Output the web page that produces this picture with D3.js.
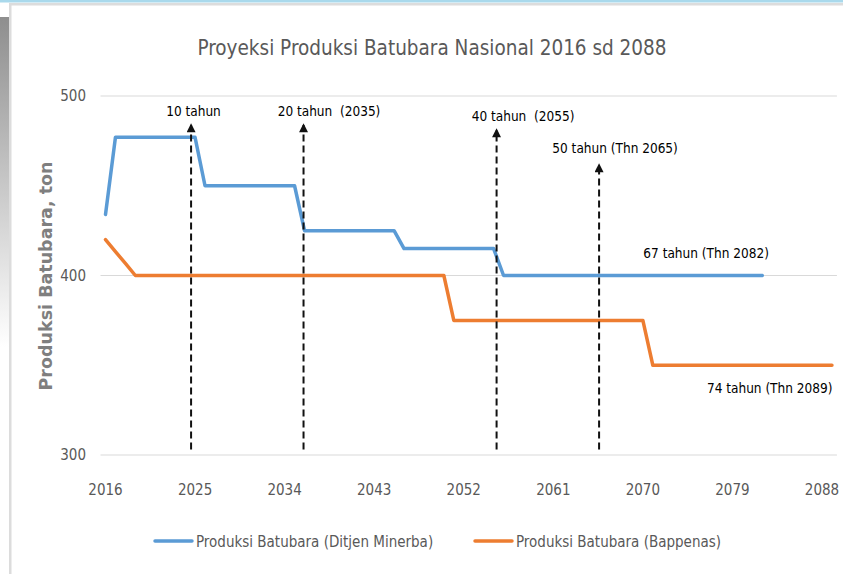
<!DOCTYPE html>
<html>
<head>
<meta charset="utf-8">
<script src="https://d3js.org/d3.v7.min.js"></script>
<style>
  body { margin: 0; background: #fff; }
  text { font-family: "DejaVu Sans Condensed", "DejaVu Sans", sans-serif; }
</style>
</head>
<body>
<div id="chart"></div>
<script>
// years 2016..2089
var years = d3.range(2016, 2090);

// Produksi Batubara (Ditjen Minerba), ends 2082
var minerba = [434, 477, 477, 477, 477, 477, 477, 477, 477, 477,
  450, 450, 450, 450, 450, 450, 450, 450, 450, 450,
  425, 425, 425, 425, 425, 425, 425, 425, 425, 425,
  415, 415, 415, 415, 415, 415, 415, 415, 415, 415,
  400, 400, 400, 400, 400, 400, 400, 400, 400, 400,
  400, 400, 400, 400, 400, 400, 400, 400, 400, 400,
  400, 400, 400, 400, 400, 400, 400];

// Produksi Batubara (Bappenas), ends 2089
var bappenas = [420, 413.3, 406.7, 400, 400, 400, 400, 400, 400, 400,
  400, 400, 400, 400, 400, 400, 400, 400, 400, 400,
  400, 400, 400, 400, 400, 400, 400, 400, 400, 400,
  400, 400, 400, 400, 400, 375, 375, 375, 375, 375,
  375, 375, 375, 375, 375, 375, 375, 375, 375, 375,
  375, 375, 375, 375, 375, 350, 350, 350, 350, 350,
  350, 350, 350, 350, 350, 350, 350, 350, 350, 350,
  350, 350, 350, 350];

var xTicks = [2016, 2025, 2034, 2043, 2052, 2061, 2070, 2079, 2088];
var yTicks = [300, 400, 500];

// dashed arrows: year, tip value, base value
var arrowYears = [2024.6, 2035.9, 2055.3, 2065.6];
var arrowTips = [483.8, 483.8, 481, 461.6];
var arrowBase = 303;

// annotation labels: text, year of anchor, value (baseline)
var noteTexts = ["10 tahun", "20 tahun  (2035)", "40 tahun  (2055)", "50 tahun (Thn 2065)", "67 tahun (Thn 2082)", "74 tahun (Thn 2089)"];
var noteYears = [2022.1, 2033.3, 2052.8, 2060.9, 2070.05, 2089.05];
var noteValues = [488.9, 488.9, 486.1, 468.2, 409.7, 334.5];
var noteAnchors = ["start", "start", "start", "start", "start", "end"];

var W = 843, H = 574;
var svg = d3.select("#chart").append("svg")
  .attr("width", W).attr("height", H);

// slide frame decoration
var defs = svg.append("defs");
var grad = defs.append("linearGradient").attr("id", "sideGrad")
  .attr("x1", 0).attr("y1", 0).attr("x2", 0).attr("y2", 1);
grad.append("stop").attr("offset", "0%").attr("stop-color", "#8e8e8e");
grad.append("stop").attr("offset", "100%").attr("stop-color", "#ffffff");
svg.append("rect").attr("x", 0).attr("y", 0).attr("width", W).attr("height", 2.5).attr("fill", "#a9d9ec");
svg.append("rect").attr("x", 9).attr("y", 3).attr("width", W - 9).attr("height", 2.5).attr("fill", "#dcdcdc");
svg.append("rect").attr("x", 0).attr("y", 17).attr("width", 9).attr("height", 330).attr("fill", "url(#sideGrad)");
svg.append("rect").attr("x", 9).attr("y", 3).attr("width", 2.5).attr("height", H).attr("fill", "#dcdcdc");

defs.append("marker").attr("id", "arrow")
  .attr("viewBox", "0 0 10 10").attr("refX", 8).attr("refY", 5)
  .attr("markerWidth", 12).attr("markerHeight", 9)
  .attr("markerUnits", "userSpaceOnUse")
  .attr("orient", "auto")
  .append("path").attr("d", "M0,0 L10,5 L0,10 z").attr("fill", "#111");

var x = d3.scaleLinear().domain([2016, 2088]).range([105.5, 822]);
var y = d3.scaleLinear().domain([300, 500]).range([455, 96]);

// gridlines
svg.append("g").selectAll("line").data(yTicks).enter().append("line")
  .attr("x1", x(2015.5)).attr("x2", x(2089.5))
  .attr("y1", function(d) { return y(d); }).attr("y2", function(d) { return y(d); })
  .attr("stroke", "#d9d9d9").attr("stroke-width", 1);

// y tick labels
svg.append("g").selectAll("text").data(yTicks).enter().append("text")
  .attr("x", 86).attr("y", function(d) { return y(d) + 5; })
  .attr("text-anchor", "end").attr("fill", "#595959")
  .style("font-size", "15px").text(function(d) { return d; });

// x tick labels
svg.append("g").selectAll("text").data(xTicks).enter().append("text")
  .attr("x", function(d) { return x(d); }).attr("y", 495)
  .attr("text-anchor", "middle").attr("fill", "#595959")
  .style("font-size", "15px").text(function(d) { return d; });

// title
svg.append("text").attr("x", 432).attr("y", 55)
  .attr("text-anchor", "middle").attr("fill", "#595959")
  .style("font-size", "20.5px").text("Proyeksi Produksi Batubara Nasional 2016 sd 2088");

// y axis title
svg.append("text")
  .attr("transform", "translate(52,276) rotate(-90)")
  .attr("text-anchor", "middle").attr("fill", "#7f7f7f")
  .style("font-family", "'DejaVu Sans', sans-serif")
  .style("font-weight", "bold").style("font-size", "17.5px")
  .text("Produksi Batubara, ton");

var line = d3.line()
  .x(function(d, i) { return x(years[i]); })
  .y(function(d) { return y(d); });

svg.append("path").datum(minerba)
  .attr("fill", "none").attr("stroke", "#5b9bd5").attr("stroke-width", 3.5)
  .attr("stroke-linejoin", "round").attr("stroke-linecap", "round")
  .attr("d", line);

svg.append("path").datum(bappenas)
  .attr("fill", "none").attr("stroke", "#ed7d31").attr("stroke-width", 3.5)
  .attr("stroke-linejoin", "round").attr("stroke-linecap", "round")
  .attr("d", line);

// dashed arrows
svg.append("g").selectAll("line").data(arrowYears).enter().append("line")
  .attr("x1", function(d) { return x(d); })
  .attr("x2", function(d) { return x(d); })
  .attr("y1", y(arrowBase))
  .attr("y2", function(d, i) { return y(arrowTips[i]); })
  .attr("stroke", "#111").attr("stroke-width", 2)
  .attr("stroke-dasharray", "7,4")
  .attr("marker-end", "url(#arrow)");

// annotation labels
svg.append("g").selectAll("text").data(noteTexts).enter().append("text")
  .attr("x", function(d, i) { return x(noteYears[i]); })
  .attr("y", function(d, i) { return y(noteValues[i]); })
  .attr("text-anchor", function(d, i) { return noteAnchors[i]; })
  .attr("fill", "#000").style("font-size", "13.5px")
  .style("white-space", "pre")
  .text(function(d) { return d; });

// legend
var legendNames = ["Produksi Batubara (Ditjen Minerba)", "Produksi Batubara (Bappenas)"];
var legendColors = ["#5b9bd5", "#ed7d31"];
var legendX = [155, 475];
var lg = svg.append("g").selectAll("g").data(legendNames).enter().append("g")
  .attr("transform", function(d, i) { return "translate(" + legendX[i] + ",541)"; });
lg.append("line").attr("x1", 0).attr("x2", 37).attr("y1", 0).attr("y2", 0)
  .attr("stroke", function(d, i) { return legendColors[i]; })
  .attr("stroke-width", 3.5).attr("stroke-linecap", "round");
lg.append("text").attr("x", 41).attr("y", 5.5)
  .attr("fill", "#595959").style("font-size", "15px")
  .text(function(d) { return d; });
</script>
</body>
</html>
